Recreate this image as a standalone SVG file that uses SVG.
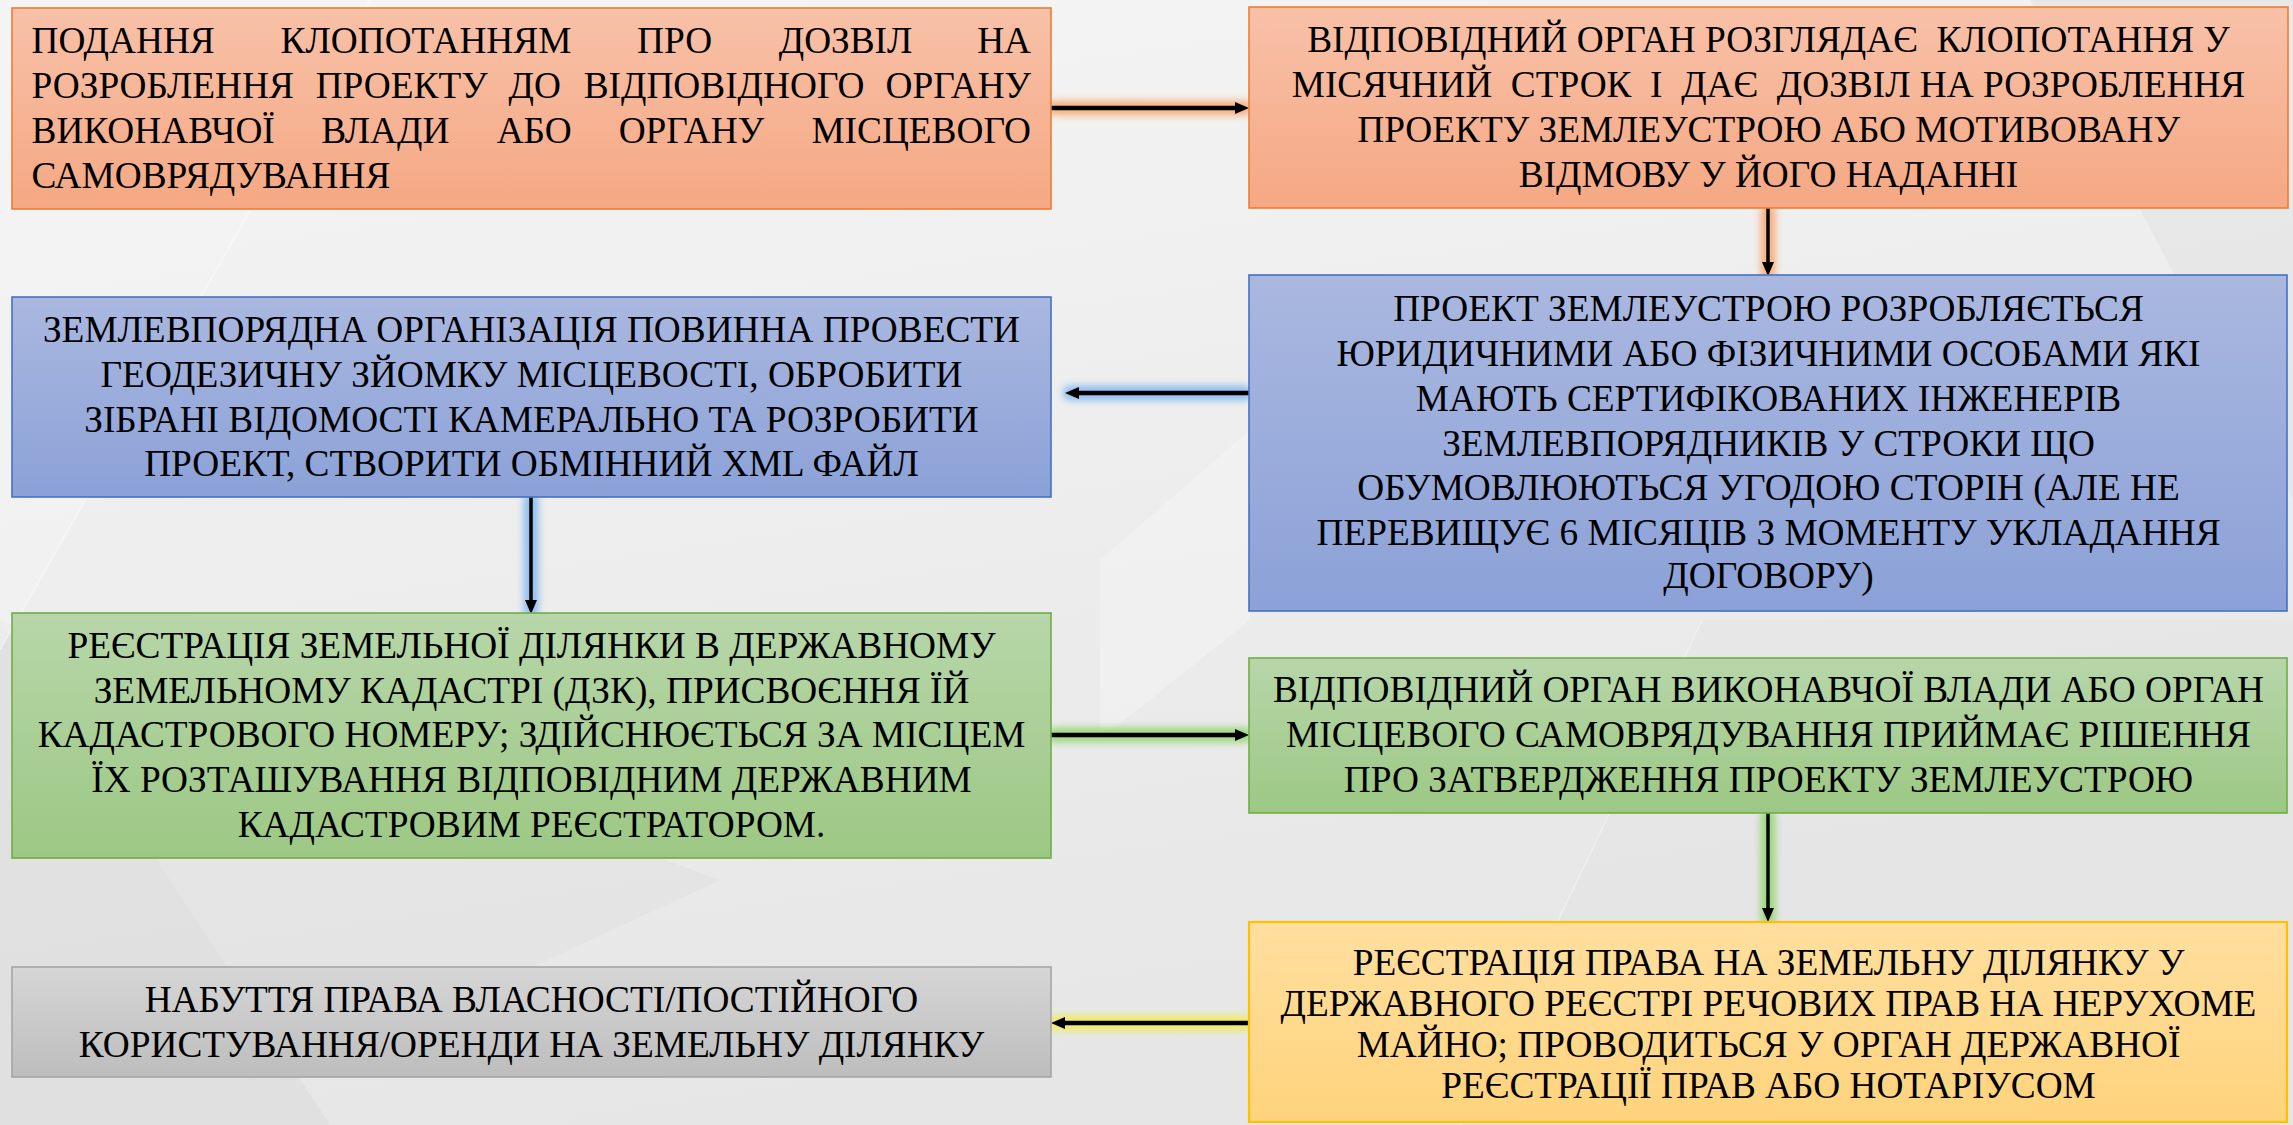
<svg xmlns="http://www.w3.org/2000/svg" width="2293" height="1125" viewBox="0 0 2293 1125">
<defs>
<linearGradient id="bg" x1="0" y1="0" x2="0.3" y2="1">
<stop offset="0" stop-color="#F5F5F5"/><stop offset="1" stop-color="#E6E6E6"/>
</linearGradient>
<linearGradient id="gOrange" x1="0" y1="0" x2="0" y2="1"><stop offset="0" stop-color="#F8C1A8"/><stop offset="1" stop-color="#F5A883"/></linearGradient>
<linearGradient id="gBlue" x1="0" y1="0" x2="0" y2="1"><stop offset="0" stop-color="#AAB8E0"/><stop offset="1" stop-color="#8BA1D7"/></linearGradient>
<linearGradient id="gGreen" x1="0" y1="0" x2="0" y2="1"><stop offset="0" stop-color="#B7D6A9"/><stop offset="1" stop-color="#9DC884"/></linearGradient>
<linearGradient id="gYellow" x1="0" y1="0" x2="0" y2="1"><stop offset="0" stop-color="#FFDF9F"/><stop offset="1" stop-color="#FFD37C"/></linearGradient>
<linearGradient id="gGray" x1="0" y1="0" x2="0" y2="1"><stop offset="0" stop-color="#D6D6D6"/><stop offset="1" stop-color="#BDBDBD"/></linearGradient>
<filter id="blur" x="-50%" y="-50%" width="200%" height="200%"><feGaussianBlur stdDeviation="3.5"/></filter>
<marker id="ah" markerUnits="userSpaceOnUse" markerWidth="14" markerHeight="14" viewBox="0 0 14 14" refX="5" refY="7" orient="auto">
<path d="M0,1 L14,7 L0,13 z" fill="#000"/>
</marker>
</defs>
<style>
.box{stroke-width:1.6}
.t{font-size:37.3px;fill:#000}
.c{text-anchor:middle}
.e{text-anchor:end}
.ln{fill:none;stroke:#000;stroke-width:4.5;marker-end:url(#ah)}
.lv{fill:none;stroke:#000;stroke-width:3.5;marker-end:url(#ah)}
</style>
<!-- background -->
<rect x="0" y="0" width="2293" height="1125" fill="url(#bg)"/>
<g id="background" stroke="none">
<polygon points="0,620 330,1125 0,1125" fill="#DCDCDC" opacity="0.6"/>
<polygon points="0,620 720,880 190,1125 0,1125" fill="#E0E0E0" opacity="0.5"/>
<polygon points="370,0 0,650 0,0" fill="#F3F3F3" opacity="0.6"/>
<polygon points="1700,620 2293,620 2293,1125 1460,1125" fill="#E4E4E4" opacity="0.6"/>
<polygon points="2030,0 2293,0 2293,500" fill="#E2E2E2" opacity="0.6"/>
<polygon points="1100,560 1250,430 1250,620 1100,740" fill="#F7F7F7" opacity="0.4"/>
<line x1="370" y1="0" x2="0" y2="650" stroke="#FFFFFF" stroke-width="1.5" opacity="0.4"/>
<line x1="1702" y1="620" x2="1460" y2="1125" stroke="#FFFFFF" stroke-width="1.5" opacity="0.4"/>
</g>

<g id="connectors">
<g filter="url(#blur)" fill="none" stroke-width="15" stroke-linecap="round" opacity="0.85">
<line x1="1055" y1="108" x2="1245" y2="108" stroke="#F7A56C"/>
<line x1="1768" y1="212" x2="1768" y2="272" stroke="#F7A56C"/>
<line x1="1245" y1="393" x2="1070" y2="393" stroke="#7FB6F0"/>
<line x1="531" y1="501" x2="531" y2="610" stroke="#7FB6F0"/>
<line x1="1055" y1="735" x2="1245" y2="735" stroke="#8ED46A"/>
<line x1="1768" y1="817" x2="1768" y2="918" stroke="#8ED46A"/>
<line x1="1245" y1="1023" x2="1056" y2="1023" stroke="#F2EC4A"/>
</g>
<line class="ln" x1="1051" y1="108" x2="1240" y2="108"/>
<line class="lv" x1="1768" y1="208" x2="1768" y2="267"/>
<line class="ln" x1="1249" y1="393" x2="1074" y2="393"/>
<line class="lv" x1="531" y1="497" x2="531" y2="605"/>
<line class="ln" x1="1051" y1="735" x2="1240" y2="735"/>
<line class="lv" x1="1768" y1="813" x2="1768" y2="913"/>
<line class="ln" x1="1249" y1="1023" x2="1060" y2="1023"/>
</g>

<g font-family="Liberation Serif, Times New Roman, serif">
<g id="node1">
<rect class="box" x="12" y="8" width="1039" height="201" fill="url(#gOrange)" stroke="#ED7D31"/>
<text class="t" y="53"><tspan x="31.6">ПОДАННЯ</tspan><tspan x="280.6">КЛОПОТАННЯМ</tspan><tspan x="637">ПРО</tspan><tspan x="778.7">ДОЗВІЛ</tspan></text>
<text class="t e" x="1031" y="53">НА</text>
<text class="t" y="98"><tspan x="31.6">РОЗРОБЛЕННЯ</tspan><tspan x="315.7">ПРОЕКТУ</tspan><tspan x="508.6">ДО</tspan><tspan x="583.7">ВІДПОВІДНОГО</tspan></text>
<text class="t e" x="1031" y="98">ОРГАНУ</text>
<text class="t" y="143"><tspan x="31.6">ВИКОНАВЧОЇ</tspan><tspan x="321.3">ВЛАДИ</tspan><tspan x="496.7">АБО</tspan><tspan x="618.7">ОРГАНУ</tspan></text>
<text class="t e" x="1031" y="143">МІСЦЕВОГО</text>
<text class="t" x="31.6" y="188">САМОВРЯДУВАННЯ</text>
</g>

<g id="node2">
<rect class="box" x="1249" y="7" width="1039" height="201" fill="url(#gOrange)" stroke="#ED7D31"/>
<text class="t c" x="1768.5" y="52" xml:space="preserve">ВІДПОВІДНИЙ ОРГАН РОЗГЛЯДАЄ  КЛОПОТАННЯ У</text>
<text class="t c" x="1768.5" y="97" xml:space="preserve">МІСЯЧНИЙ  СТРОК  І  ДАЄ  ДОЗВІЛ НА РОЗРОБЛЕННЯ</text>
<text class="t c" x="1768.5" y="142">ПРОЕКТУ ЗЕМЛЕУСТРОЮ АБО МОТИВОВАНУ</text>
<text class="t c" x="1768.5" y="187">ВІДМОВУ У ЙОГО НАДАННІ</text>
</g>

<g id="node3">
<rect class="box" x="1249" y="275" width="1038" height="336" fill="url(#gBlue)" stroke="#4472C4"/>
<text class="t c" x="1768.5" y="321">ПРОЕКТ ЗЕМЛЕУСТРОЮ РОЗРОБЛЯЄТЬСЯ</text>
<text class="t c" x="1768.5" y="366">ЮРИДИЧНИМИ АБО ФІЗИЧНИМИ ОСОБАМИ ЯКІ</text>
<text class="t c" x="1768.5" y="411">МАЮТЬ СЕРТИФІКОВАНИХ ІНЖЕНЕРІВ</text>
<text class="t c" x="1768.5" y="456">ЗЕМЛЕВПОРЯДНИКІВ У СТРОКИ ЩО</text>
<text class="t c" x="1768.5" y="500">ОБУМОВЛЮЮТЬСЯ УГОДОЮ СТОРІН (АЛЕ НЕ</text>
<text class="t c" x="1768.5" y="545">ПЕРЕВИЩУЄ 6 МІСЯЦІВ З МОМЕНТУ УКЛАДАННЯ</text>
<text class="t c" x="1768.5" y="588">ДОГОВОРУ)</text>
</g>

<g id="node4">
<rect class="box" x="12" y="297" width="1039" height="200" fill="url(#gBlue)" stroke="#4472C4"/>
<text class="t c" x="531.5" y="342">ЗЕМЛЕВПОРЯДНА ОРГАНІЗАЦІЯ ПОВИННА ПРОВЕСТИ</text>
<text class="t c" x="531.5" y="387">ГЕОДЕЗИЧНУ ЗЙОМКУ МІСЦЕВОСТІ, ОБРОБИТИ</text>
<text class="t c" x="531.5" y="432">ЗІБРАНІ ВІДОМОСТІ КАМЕРАЛЬНО ТА РОЗРОБИТИ</text>
<text class="t c" x="531.5" y="476">ПРОЕКТ, СТВОРИТИ ОБМІННИЙ XML ФАЙЛ</text>
</g>

<g id="node5">
<rect class="box" x="12" y="613" width="1039" height="245" fill="url(#gGreen)" stroke="#70AD47"/>
<text class="t c" x="531.5" y="658">РЕЄСТРАЦІЯ ЗЕМЕЛЬНОЇ ДІЛЯНКИ В ДЕРЖАВНОМУ</text>
<text class="t c" x="531.5" y="703">ЗЕМЕЛЬНОМУ КАДАСТРІ (ДЗК), ПРИСВОЄННЯ ЇЙ</text>
<text class="t c" x="531.5" y="747">КАДАСТРОВОГО НОМЕРУ; ЗДІЙСНЮЄТЬСЯ ЗА МІСЦЕМ</text>
<text class="t c" x="531.5" y="792">ЇХ РОЗТАШУВАННЯ ВІДПОВІДНИМ ДЕРЖАВНИМ</text>
<text class="t c" x="531.5" y="837">КАДАСТРОВИМ РЕЄСТРАТОРОМ.</text>
</g>

<g id="node6">
<rect class="box" x="1249" y="658" width="1038" height="155" fill="url(#gGreen)" stroke="#70AD47"/>
<text class="t c" x="1768.5" y="702">ВІДПОВІДНИЙ ОРГАН ВИКОНАВЧОЇ ВЛАДИ АБО ОРГАН</text>
<text class="t c" x="1768.5" y="747">МІСЦЕВОГО САМОВРЯДУВАННЯ ПРИЙМАЄ РІШЕННЯ</text>
<text class="t c" x="1768.5" y="792">ПРО ЗАТВЕРДЖЕННЯ ПРОЕКТУ ЗЕМЛЕУСТРОЮ</text>
</g>

<g id="node7">
<rect x="1249" y="922" width="1038" height="200" fill="url(#gYellow)" stroke="#FFC000" stroke-width="2.2"/>
<text class="t c" x="1768.5" y="975">РЕЄСТРАЦІЯ ПРАВА НА ЗЕМЕЛЬНУ ДІЛЯНКУ У</text>
<text class="t c" x="1768.5" y="1016">ДЕРЖАВНОГО РЕЄСТРІ РЕЧОВИХ ПРАВ НА НЕРУХОМЕ</text>
<text class="t c" x="1768.5" y="1057">МАЙНО; ПРОВОДИТЬСЯ У ОРГАН ДЕРЖАВНОЇ</text>
<text class="t c" x="1768.5" y="1098">РЕЄСТРАЦІЇ ПРАВ АБО НОТАРІУСОМ</text>
</g>

<g id="node8">
<rect class="box" x="12" y="967" width="1039" height="110" fill="url(#gGray)" stroke="#A5A5A5"/>
<text class="t c" x="531.5" y="1012">НАБУТТЯ ПРАВА ВЛАСНОСТІ/ПОСТІЙНОГО</text>
<text class="t c" x="531.5" y="1057">КОРИСТУВАННЯ/ОРЕНДИ НА ЗЕМЕЛЬНУ ДІЛЯНКУ</text>
</g>
</g>
</svg>
